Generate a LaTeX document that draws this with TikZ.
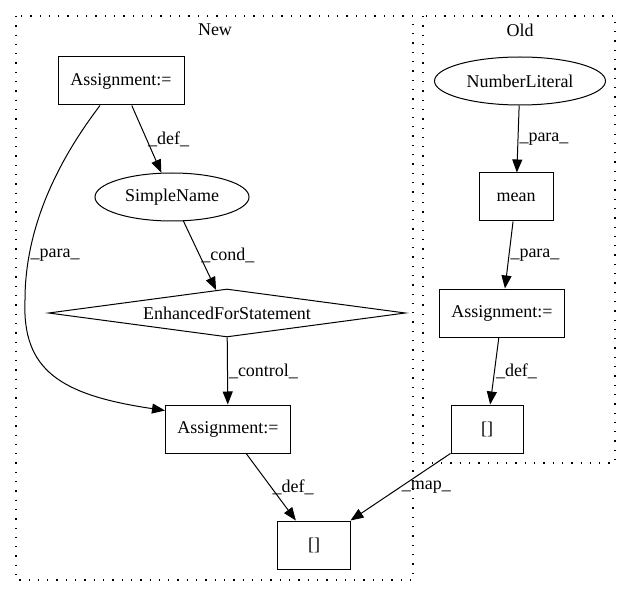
\documentclass[tikz,border=0pt]{standalone}
\usepackage{fontspec}
\setmainfont{Liberation Serif}
\usetikzlibrary{shapes.geometric,arrows.meta}

\begin{document}
\begin{tikzpicture}[
    x=1pt, y=-1pt,
    font=\fontsize{18}{21}\selectfont,
    box/.style={rectangle, draw=black, line width=1pt, minimum height=48pt, inner sep=0pt},
    oval/.style={ellipse, draw=black, line width=1pt, minimum height=48pt, inner sep=0pt},
    cond/.style={diamond, draw=black, line width=1pt, minimum width=357pt, minimum height=48pt, shape aspect=7.4, inner sep=0pt},
    cluster/.style={draw=black, line width=1.3pt, dash pattern=on 1.3pt off 8pt},
    arr/.style={-{Triangle[length=13pt,width=10pt]}, line width=1pt},
    lbl/.style={anchor=west, inner sep=1pt, pos=0.5}
]
\useasboundingbox (0,0) rectangle (632,596);

% clusters
\draw[cluster] (16,16) rectangle (413,580);
\draw[cluster] (423,16) rectangle (615,463);
\node (newlbl) at (215,30) {New};
\node (oldlbl) at (520,30) {Old};

% New
\node[box, minimum width=126pt] (asgtop) at (121,81) {Assignment:=};
\node[oval, minimum width=154pt] (simple) at (172,197) {SimpleName};
\node[cond] (efor) at (227,313) {EnhancedForStatement};
\node[box, minimum width=125pt] (asgbot) at (228,429) {Assignment:=};
\node[box, minimum width=73pt] (idxnew) at (314,545) {[]};

% Old
\node[oval, minimum width=171pt] (numlit) at (520,81) {NumberLiteral};
\node[box, minimum width=74pt] (mean) at (516,197) {mean};
\node[box, minimum width=125pt] (asgold) at (502,313) {Assignment:=};
\node[box, minimum width=72pt] (idxold) at (487,429) {[]};

\draw[arr] (asgtop) -- node[lbl] {\_def\_} (simple);
\draw[arr] (simple) -- node[lbl] {\_cond\_} (efor);
\draw[arr] (efor) -- node[lbl] {\_control\_} (asgbot);
\draw[arr] ([xshift=-21pt]asgtop.south) .. controls (70,145) and (25,215) .. node[lbl, pos=0.82] {\_para\_} (25,300)
    .. controls (22,370) and (60,395) .. ([yshift=-6pt]asgbot.north west);
\draw[arr] (asgbot) -- node[lbl] {\_def\_} (idxnew);

\draw[arr] (numlit) -- node[lbl] {\_para\_} (mean);
\draw[arr] (mean) -- node[lbl] {\_para\_} (asgold);
\draw[arr] (asgold) -- node[lbl] {\_def\_} (idxold);
\draw[arr] (idxold) -- node[lbl] {\_map\_} (idxnew);
\end{tikzpicture}
\end{document}
